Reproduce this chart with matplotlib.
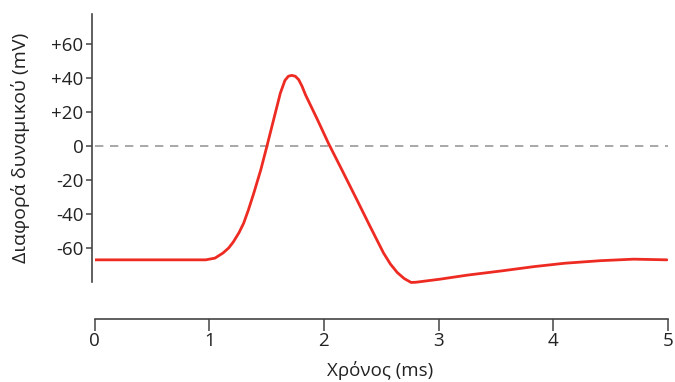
import matplotlib.pyplot as plt

plt.rcParams['font.family'] = ['Open Sans', 'DejaVu Sans']

# action potential trace
time_ms = [0.0, 0.5, 0.97, 1.05, 1.12, 1.17, 1.21, 1.26, 1.30, 1.34, 1.39, 1.45,
           1.50, 1.56, 1.62, 1.66, 1.69, 1.72, 1.75, 1.78, 1.81, 1.84, 1.94, 2.04,
           2.16, 2.29, 2.40, 2.52, 2.58, 2.64, 2.70, 2.76, 2.80, 3.01, 3.25, 3.55,
           3.83, 4.10, 4.41, 4.70, 4.99]
voltage_mv = [-67, -67, -67, -66, -63, -60, -56.5, -51, -45.5, -38, -27.5, -14,
              -1, 15, 31, 38.5, 41, 41.5, 41, 39, 35, 30, 16, 1.5,
              -14.5, -32, -47, -63, -69.5, -74.5, -78, -80.3, -80.2, -78.4, -76, -73.5,
              -71, -69, -67.5, -66.6, -67]

y_ticks = [60, 40, 20, 0, -20, -40, -60]
y_tick_labels = ['+60', '+40', '+20', '0', '-20', '-40', '-60']
x_ticks = [0, 1, 2, 3, 4, 5]

W, H = 675, 382
fig = plt.figure(figsize=(W / 100, H / 100), dpi=100)
ax = fig.add_axes([94.5 / W, 1 - 319 / H, (668 - 94.5) / W, (319 - 14) / H])

ax.axhline(0, color='#9a9a9a', lw=1.2, dashes=(5, 4), zorder=1)
ax.plot(time_ms, voltage_mv, color='#ee2b22', lw=2.0, solid_capstyle='round',
        solid_joinstyle='round', zorder=3)

ax.set_xlim(0, 5)
ax.set_ylim(-101.8, 77.6)

for s in ['top', 'right']:
    ax.spines[s].set_visible(False)
ax.spines['left'].set_bounds(-80, 77.6)
ax.spines['left'].set_position(('outward', 2))
for s in ['left', 'bottom']:
    ax.spines[s].set_color('#444444')
    ax.spines[s].set_linewidth(1.2)

ax.set_yticks(y_ticks)
ax.set_yticklabels(y_tick_labels)
ax.set_xticks(x_ticks)
ax.tick_params(axis='y', direction='out', length=4.5, width=1.1, color='#444444',
               labelsize=13.5, labelcolor='#222222', pad=1.5)
ax.tick_params(axis='x', direction='out', length=8.5, width=1.1, color='#444444',
               labelsize=13.5, labelcolor='#222222', pad=0.5)

fig.text(21 / W, 1 - 148 / H, 'Διαφορά δυναμικού (mV)', rotation=90,
         ha='center', va='center', fontsize=14, color='#222222')
fig.text(380 / W, 1 - 370 / H, 'Χρόνος (ms)', ha='center', va='center',
         fontsize=13.5, color='#222222')

fig.savefig('out.png', dpi=100)
